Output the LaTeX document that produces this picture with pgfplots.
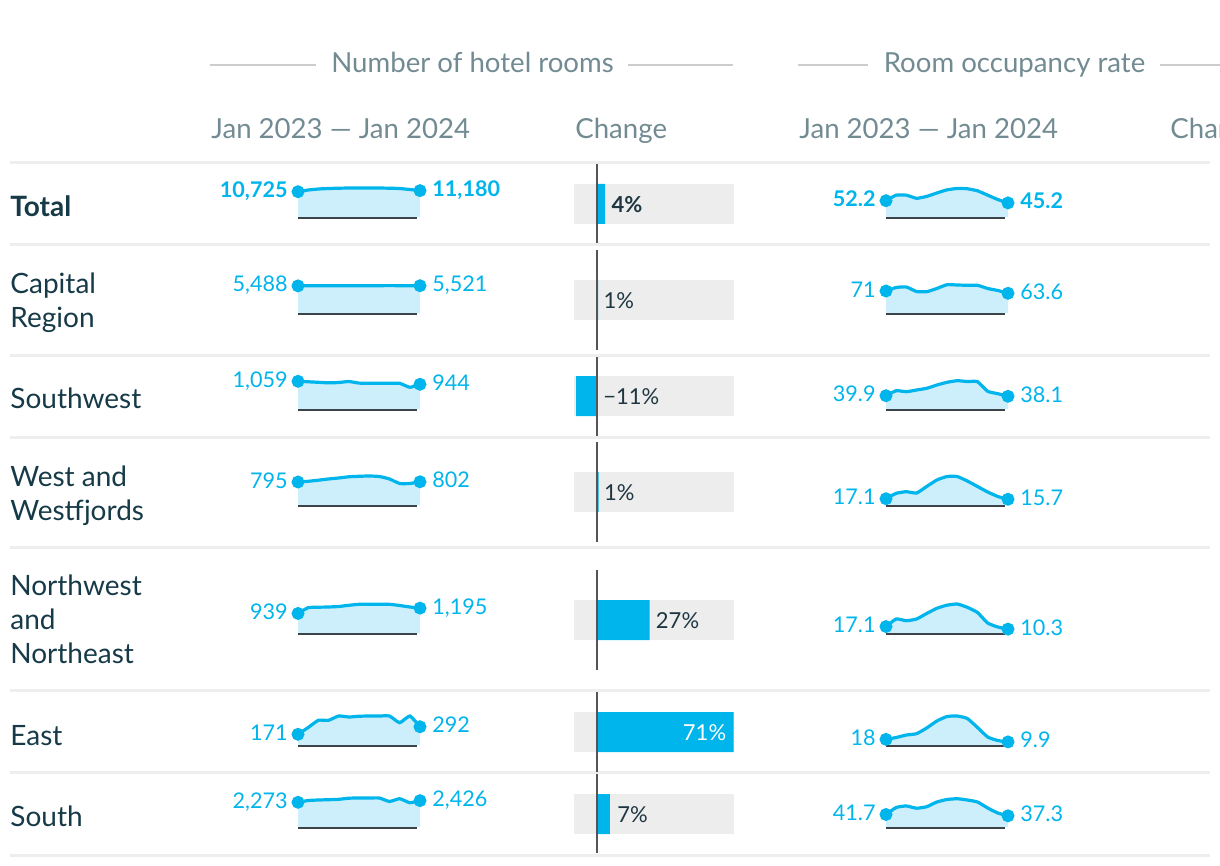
\documentclass[border=0pt]{standalone}
\usepackage{fontspec}
\setmainfont{Lato}
\usepackage{pgfplots}
\pgfplotsset{compat=1.18}
\usepackage{pgfplotstable}

\definecolor{cyanline}{HTML}{00B4EC}
\definecolor{cyanfill}{HTML}{CCEFFB}
\definecolor{under}{HTML}{3D4448}
\definecolor{hdr}{HTML}{728B92}
\definecolor{hdrline}{HTML}{CDCDCD}
\definecolor{rowtxt}{HTML}{163A47}
\definecolor{sep}{HTML}{EEEEEE}
\definecolor{barbg}{HTML}{EDEDED}
\definecolor{zero}{HTML}{555555}
\definecolor{bartxt}{HTML}{1E3641}

% hotel rooms, Jan 2023 (m=0) to Jan 2024 (m=12)
\pgfplotstableread{
m  total capital southwest west northwest east south
0  10725 5488 1059  795  939 171 2273
1  11450 5495 1040  820 1215 280 2438
2  11870 5500 1020  858 1238 395 2484
3  12080 5505 1000  900 1248 395 2512
4  12210 5510 1012  934 1272 464 2548
5  12290 5515 1050  976 1330 448 2650
6  12300 5520  990  993 1378 460 2668
7  12300 5525  982 1003 1378 464 2668
8  12290 5530  982  986 1378 464 2668
9  12210 5535  982  900 1378 464 2350
10 12080 5530  982  744 1320 357 2604
11 11660 5525  830  744 1248 464 2236
12 11180 5521  944  802 1195 292 2426
}\rooms

% room occupancy rate
\pgfplotstableread{
m  total capital southwest west northwest east south
0  52.2 71   39.9 17.1 17.1 18   41.7
1  70   82.4 54.9 31.9 37.1 24   65
2  70   84   51.9 36.3 32.6 32   70
3  60   69.4 57   32.8 37.1 36.2 62.6
4  66   68.8 62.1 50.5 51.7 54.4 67.6
5  77   79.1 72   68.3 65.5 76.8 83.3
6  87   91.4 80.1 77.8 73.7 91.2 91.6
7  91.5 90.4 84.9 77.8 76.8 92.8 94.2
8  90.5 89.5 82.5 65.5 68.1 84.8 89.9
9  84   89.5 81.9 50.5 54.3 56   83.3
10 70   79.1 53.1 35.5 26.5 25.6 63.3
11 56   72.7 45.9 23.2 15.9 14.4 46.6
12 45.2 63.6 38.1 15.7 10.3 9.9  37.3
}\occ

\tikzset{
  hdrtxt/.style={text=hdr, inner sep=0pt, font=\fontsize{13.8}{16}\selectfont},
  rowlab/.style={text=rowtxt, inner sep=0pt, anchor=base west, font=\fontsize{14}{17}\selectfont},
  valtxt/.style={text=cyanline, inner sep=0pt, font=\fontsize{10.8}{12}\selectfont},
  pcttxt/.style={text=bartxt, inner sep=0pt, anchor=west, font=\fontsize{11}{13}\selectfont},
}

\pgfplotsset{
  spark/.style={scale only axis, hide axis, width=61pt, height=14.5pt,
    xmin=0, xmax=12, ymin=0, clip=false, anchor=south west},
}

% #1 table, #2 column, #3 position, #4 ymax, #5 first value, #6 last value,
% #7 first label, #8 last label
\newcommand{\spark}[8]{%
  \coordinate (sparkpos) at #3;
  \begin{axis}[spark, at={(sparkpos)}, ymax=#4]
    \addplot[fill=cyanfill, draw=none, smooth, tension=0.3]
      table[x=m, y=#2] {#1} \closedcycle;
    \draw[under, line width=1pt, yshift=-0.5pt]
      (rel axis cs:0,0) -- (rel axis cs:0.975,0);
    \addplot[cyanline, line width=1.6pt, smooth, tension=0.3,
      mark=*, mark repeat=12, mark size=2.4pt, mark options={fill=cyanline}]
      table[x=m, y=#2] {#1};
    \node[valtxt, anchor=base east, xshift=-5pt, yshift=-3pt] at (axis cs:0,#5) {#7};
    \node[valtxt, anchor=base west, xshift=6pt, yshift=-3pt] at (axis cs:12,#6) {#8};
  \end{axis}}

\begin{document}
\begin{tikzpicture}[x=0.5pt, y=0.5pt]
\path[use as bounding box] (0,0) rectangle (1220,-866);

% group headers
\draw[hdrline, line width=0.75pt] (210,-65) -- (316,-65) (628,-65) -- (733,-65);
\node[hdrtxt, anchor=base] at (472.5,-73) {Number of hotel rooms};
\draw[hdrline, line width=0.75pt] (798,-65) -- (868,-65) (1160,-65) -- (1232,-65);
\node[hdrtxt, anchor=base] at (1014.5,-73) {Room occupancy rate};
\node[hdrtxt, anchor=base west] at (211,-139) {Jan 2023 — Jan 2024};
\node[hdrtxt, anchor=base west] at (575,-139) {Change};
\node[hdrtxt, anchor=base west] at (799,-139) {Jan 2023 — Jan 2024};
\node[hdrtxt, anchor=base west] at (1170,-139) {Change};

% row separators
\foreach \yy in {163,245,355,437,547,690,772,855}
  \draw[sep, line width=1.5pt] (10,-\yy) -- (1210,-\yy);

% row labels
\node[rowlab, font=\fontsize{14}{17}\selectfont\bfseries] at (10,-217) {Total};
\node[rowlab] at (10,-293) {Capital};
\node[rowlab] at (10,-327) {Region};
\node[rowlab] at (10,-408) {Southwest};
\node[rowlab] at (10,-486) {West and};
\node[rowlab] at (10,-520) {Westfjords};
\node[rowlab] at (10,-595) {Northwest};
\node[rowlab] at (10,-629) {and};
\node[rowlab] at (10,-663) {Northeast};
\node[rowlab] at (10,-745) {East};
\node[rowlab] at (10,-826) {South};

% change bars
\foreach \c in {204,300,396,492,620,732,814}
  \fill[barbg] (574,-\c+20) rectangle (734,-\c-20);
\coordinate (barpos) at (574,-855);
\begin{axis}[at={(barpos)}, anchor=south west, scale only axis, hide axis,
    width=80pt, height=346pt, xmin=-11.9, xmax=71, ymin=-855, ymax=-163, clip=false]
  \addplot[xbar, bar width=40, fill=cyanline, draw=none] coordinates {
    (4.24,-204) (0.60,-300) (-10.86,-396) (0.88,-492) (27.26,-620) (70.76,-732) (6.73,-814)};
  \node[pcttxt, font=\fontsize{11}{13}\selectfont\bfseries, xshift=3pt] at (axis cs:4.24,-205) {4\%};
  \node[pcttxt, xshift=2.5pt] at (axis cs:0.60,-301) {1\%};
  \node[pcttxt, xshift=3pt] at (axis cs:0,-397) {−11\%};
  \node[pcttxt, xshift=2.5pt] at (axis cs:0.88,-493) {1\%};
  \node[pcttxt, xshift=3pt] at (axis cs:27.26,-621) {27\%};
  \node[pcttxt, anchor=east, text=white, xshift=-3.5pt] at (axis cs:70.76,-733) {71\%};
  \node[pcttxt, xshift=3.5pt] at (axis cs:6.73,-815) {7\%};
\end{axis}
\draw[zero, line width=1pt]
  (597,-164) -- (597,-243) (597,-250) -- (597,-350) (597,-357) -- (597,-436)
  (597,-442) -- (597,-542) (597,-570) -- (597,-670) (597,-692) -- (597,-772)
  (597,-774) -- (597,-853);

% sparklines: hotel rooms
\spark{\rooms}{total}{(298,-217)}{12300}{10725}{11180}{\bfseries 10,725}{\bfseries 11,180}
\spark{\rooms}{capital}{(298,-313)}{5865}{5488}{5521}{5,488}{5,521}
\spark{\rooms}{southwest}{(298,-409)}{1108}{1059}{944}{1,059}{944}
\spark{\rooms}{west}{(298,-505)}{1003}{795}{802}{795}{802}
\spark{\rooms}{northwest}{(298,-633)}{1392}{939}{1195}{939}{1,195}
\spark{\rooms}{east}{(298,-745)}{464}{171}{292}{171}{292}
\spark{\rooms}{south}{(298,-827)}{2668}{2273}{2426}{2,273}{2,426}

% sparklines: occupancy rate
\spark{\occ}{total}{(886,-217)}{93}{52.2}{45.2}{\bfseries 52.2}{\bfseries 45.2}
\spark{\occ}{capital}{(886,-313)}{93.6}{71}{63.6}{71}{63.6}
\spark{\occ}{southwest}{(886,-409)}{87}{39.9}{38.1}{39.9}{38.1}
\spark{\occ}{west}{(886,-505)}{79.2}{17.1}{15.7}{17.1}{15.7}
\spark{\occ}{northwest}{(886,-633)}{76.8}{17.1}{10.3}{17.1}{10.3}
\spark{\occ}{east}{(886,-745)}{92.8}{18}{9.9}{18}{9.9}
\spark{\occ}{south}{(886,-827)}{96.6}{41.7}{37.3}{41.7}{37.3}
\end{tikzpicture}
\end{document}
